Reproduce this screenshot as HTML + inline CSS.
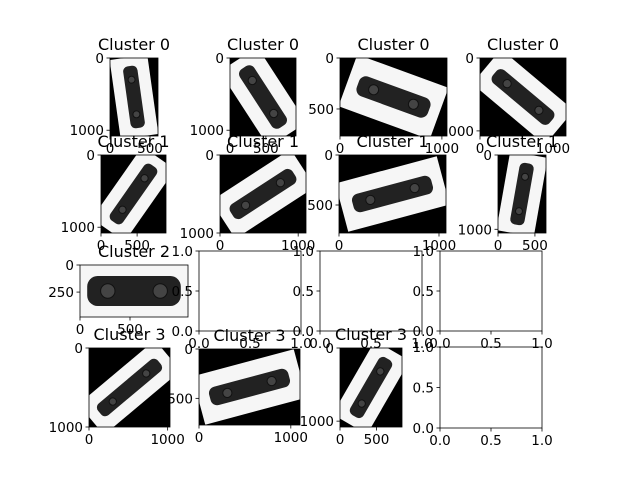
<!DOCTYPE html>
<html><head><meta charset="utf-8">
<style>
html,body{margin:0;padding:0;background:#fff;}
svg text{font-family:"DejaVu Sans","Liberation Sans",sans-serif;fill:#000;}
</style></head>
<body>
<svg id="fig" width="640" height="480" viewBox="0 0 640 480" xmlns="http://www.w3.org/2000/svg">
<rect x="0" y="0" width="640" height="480" fill="#fff"/>
</svg>
<script>
// data: cluster labels per subplot, image extents (data units) and tick labels
const clusterLabels = [0,0,0,0, 1,1,1,1, 2,null,null,null, 3,3,3,null];
const imgWidths  = [600,920,1050,1180, 900,1100,1070,650, 1080,1,1,1, 1030,1100,850,1];
const imgHeights = [1080,1080,765,1070, 1080,1000,780,1050, 480,1,1,1, 1000,770,1080,1];
const xTickVals = [[0,500],[0,500],[0,1000],[0,1000],[0,500],[0,1000],[0,1000],[0,500],[0,500],[0,0.5,1],[0,0.5,1],[0,0.5,1],[0,1000],[0,1000],[0,500],[0,0.5,1]];
const yTickVals = [[0,1000],[0,1000],[0,500],[0,1000],[0,1000],[0,1000],[0,500],[0,1000],[0,250],[0,0.5,1],[0,0.5,1],[0,0.5,1],[0,1000],[0,500],[0,1000],[0,0.5,1]];

// layout (pixel boxes) and drawing style for the rotated photo
const layout = [
 {x:110,y:58,w:48,h:78,rw:38,rh:80,a:-8},
 {x:230,y:58,w:66,h:78,rw:45,rh:90,a:-33},
 {x:340,y:58,w:107,h:78,rw:97,rh:55,a:20},
 {x:480,y:58,w:86,h:78,rw:95,rh:45,a:40},
 {x:101,y:155,w:65,h:78,rw:40,rh:88,a:35},
 {x:220,y:155,w:86,h:78,rw:95,rh:45,a:-33},
 {x:339,y:155,w:107,h:78,rw:105,rh:50,a:-15},
 {x:498,y:155,w:48,h:78,rw:38,rh:80,a:10},
 {x:80,y:265,w:108,h:52,rw:120,rh:60,a:0,white:true},
 {x:199,y:251,w:102,h:80},
 {x:320,y:251,w:102,h:80},
 {x:440,y:251,w:102,h:80},
 {x:89,y:348,w:81,h:79,rw:100,rh:40,a:-40},
 {x:199,y:349,w:101,h:76,rw:105,rh:50,a:-15},
 {x:340,y:348,w:62,h:79,rw:40,rh:85,a:30},
 {x:440,y:347,w:102,h:81}
];
const svg = document.getElementById('fig');
const NS = 'http://www.w3.org/2000/svg';
function mk(tag, attrs, parent){ const e=document.createElementNS(NS,tag); for(const k in attrs) e.setAttribute(k,attrs[k]); (parent||svg).appendChild(e); return e; }
function fmt(v, empty){ return empty ? v.toFixed(1) : String(v); }

layout.forEach((L,i)=>{
  const g = mk('g',{});
  
  
  const empty = clusterLabels[i]===null;
  const W = imgWidths[i], H = imgHeights[i];
  const sx = v => L.x + (empty ? v/1 : v/W) * L.w;
  const syImg = v => L.y + (v/H) * L.h;
  const syEmp = v => L.y + L.h - v * L.h;
  const sy = empty ? syEmp : syImg;
  const cid = 'clip'+i;
  const cp = mk('clipPath',{id:cid}, g);
  mk('rect',{x:L.x,y:L.y,width:L.w,height:L.h}, cp);
  if(!empty){
    const im = mk('g',{'clip-path':'url(#'+cid+')'}, g);
    
    
    mk('rect',{x:L.x,y:L.y,width:L.w,height:L.h,fill:L.white?'#fff':'#000'}, im);
    const cx=L.x+L.w/2, cy=L.y+L.h/2;
    const r = mk('g',{transform:`rotate(${L.a} ${cx} ${cy})`}, im);
    mk('rect',{x:cx-L.rw/2,y:cy-L.rh/2,width:L.rw,height:L.rh,fill:'#f6f6f6'}, r);
    const vert = L.rh > L.rw;
    const cl = (vert?L.rh:L.rw)*0.78, cs = (vert?L.rw:L.rh)*(L.white?0.5:0.38);
    const cw = vert?cs:cl, ch = vert?cl:cs;
    mk('rect',{x:cx-cw/2,y:cy-ch/2,width:cw,height:ch,rx:Math.min(cw,ch)*0.35,fill:'#222'}, r);
    const wr = cs*0.24;
    [-0.28,0.28].forEach(f=>{
      const wx = vert? cx : cx+f*cl, wy = vert? cy+f*cl : cy;
      mk('circle',{cx:wx,cy:wy,r:wr,fill:'#444',stroke:'#111','stroke-width':1}, r);
    });
    const t = mk('text',{x:L.x+L.w/2,y:L.y-8,'font-size':16,'text-anchor':'middle'}, g);
    
    
    t.textContent = 'Cluster '+clusterLabels[i];
  }
  mk('rect',{x:L.x,y:L.y,width:L.w,height:L.h,fill:'none',stroke:'#000','stroke-width':0.8}, g);
  xTickVals[i].forEach(v=>{
    const px = sx(v);
    mk('line',{x1:px,x2:px,y1:L.y+L.h,y2:L.y+L.h+3.5,stroke:'#000','stroke-width':0.8}, g);
    const t = mk('text',{x:px,y:L.y+L.h+17,'font-size':13.5,'text-anchor':'middle'}, g);
    
    
    t.textContent = fmt(v, empty);
  });
  yTickVals[i].forEach(v=>{
    const py = sy(v);
    mk('line',{x1:L.x-3.5,x2:L.x,y1:py,y2:py,stroke:'#000','stroke-width':0.8}, g);
    const t = mk('text',{x:L.x-6,y:py+5,'font-size':13.5,'text-anchor':'end'}, g);
    
    
    t.textContent = fmt(v, empty);
  });
});
</script>
</body></html>
